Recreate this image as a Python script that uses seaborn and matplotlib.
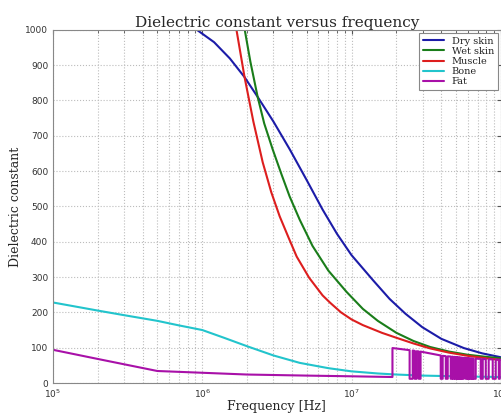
import numpy as np
import pandas as pd
import matplotlib
matplotlib.use("Agg")
import matplotlib.pyplot as plt
import seaborn as sns

# Valores (frecuencia en Hz, constante dielectrica)
dry_f = [9.2e5, 1.2e6, 1.53e6, 1.92e6, 2.35e6, 3e6, 3.85e6, 5e6, 6.4e6, 8e6, 1e7,
         1.4e7, 1.8e7, 2.3e7, 2.98e7, 4e7, 5.65e7, 7.5e7, 1e8]
dry_v = [1000, 965, 919, 866, 810, 740, 662, 575, 491, 422, 362,
         290, 238, 196, 158, 125, 99, 84, 73]

wet_f = [1.92e6, 2.1e6, 2.35e6, 2.6e6, 2.96e6, 3.4e6, 3.85e6, 4.5e6, 5.48e6, 7e6, 9.26e6,
         1.19e7, 1.5e7, 2e7, 2.6e7, 3.36e7, 4.5e7, 6e7, 8e7, 1e8]
wet_v = [1003, 910, 810, 735, 662, 590, 528, 462, 388, 318, 258,
         210, 176, 142, 119, 102, 89, 80, 74, 70]

muscle_f = [1.69e6, 1.92e6, 2.2e6, 2.54e6, 2.9e6, 3.3e6, 3.8e6, 4.29e6, 5.2e6, 6.4e6, 7.2e6,
            8.5e6, 1e7, 1.19e7, 1.6e7, 2e7, 2.6e7, 3.36e7, 4.5e7, 6e7, 8e7, 1e8]
muscle_v = [1003, 866, 740, 625, 540, 472, 410, 358, 298, 248, 227,
            200, 180, 164, 142, 128, 112, 98, 86, 77, 70, 65]

bone_f = [1e5, 2e5, 3e5, 5e5, 7e5, 1e6, 1.4e6, 2e6, 3e6, 4.5e6, 7e6, 1e7, 1.5e7, 2e7,
          3e7, 5e7, 1e8]
bone_v = [228, 205, 192, 176, 163, 150, 128, 104, 78, 57, 42, 33, 27, 24,
          21, 19, 17]

fat_f = [1e5, 2e5, 5e5, 1e6, 2e6, 5e6, 1e7, 1.88e7]
fat_v = [94, 68, 34, 29, 24, 21, 19, 17]

# tramo ruidoso de grasa por encima de ~19 MHz
fat_top_f = [1.88e7, 1e8]
fat_top_v = [99, 66]
fat_low = 12
fat_drops = [(2.45e7, 2.57e7), (2.65e7, 2.73e7), (2.82e7, 2.90e7),
             (3.96e7, 4.08e7), (4.28e7, 4.41e7),
             (4.62e7, 4.72e7), (4.78e7, 4.88e7), (4.94e7, 5.04e7), (5.08e7, 5.14e7),
             (5.22e7, 5.30e7), (5.36e7, 5.45e7), (5.52e7, 5.65e7),
             (5.82e7, 5.95e7), (6.00e7, 6.12e7), (6.18e7, 6.32e7), (6.38e7, 6.50e7), (6.56e7, 6.79e7),
             (7.34e7, 7.57e7), (7.93e7, 8.30e7), (8.83e7, 9.25e7), (9.70e7, 9.85e7)]
fat_drop_top = [(93, 92), (91, 90), (89.5, 89),
                (78, 77), (76, 75.5),
                (75, 74.6), (74.4, 74), (73.8, 73.5), (73.3, 73),
                (72.8, 72.5), (72.3, 72), (71.8, 71.5),
                (71.2, 71), (70.8, 70.5), (70.3, 70), (69.8, 69.5), (69.3, 69),
                (68.3, 68), (67.6, 67.2), (66.8, 66.5), (66.2, 66.1)]

tejidos = ["Dry skin", "Wet skin", "Muscle", "Bone", "Fat"]
colores = {"Dry skin": "#1c1ca8", "Wet skin": "#1a7d1a", "Muscle": "#dd1e1e",
           "Bone": "#22c4cc", "Fat": "#a810a8"}

# armar la serie de grasa completa
fat_all_f = list(fat_f) + [fat_top_f[0]]
fat_all_v = list(fat_v) + [fat_top_v[0]]
for (a, b), (ta, tb) in zip(fat_drops, fat_drop_top):
    fat_all_f += [a, a, b, b]
    fat_all_v += [ta, fat_low, fat_low, tb]
fat_all_f.append(fat_top_f[1])
fat_all_v.append(fat_top_v[1])

filas = []
for nombre, ff, vv in [("Dry skin", dry_f, dry_v), ("Wet skin", wet_f, wet_v),
                       ("Muscle", muscle_f, muscle_v), ("Bone", bone_f, bone_v),
                       ("Fat", fat_all_f, fat_all_v)]:
    for f, v in zip(ff, vv):
        filas.append({"Frecuencia": f, "Valor": v, "Tejido": nombre})
df = pd.DataFrame(filas)

sns.set_style("white")
plt.rcParams["font.family"] = ["DejaVu Sans"]

fig = plt.figure(figsize=(5.02, 4.16), dpi=100)
ax = fig.add_axes([0.1056, 0.0793, 0.892, 0.849])

sns.lineplot(data=df, x="Frecuencia", y="Valor", hue="Tejido", hue_order=tejidos,
             palette=colores, estimator=None, sort=False, units="Tejido",
             linewidth=1.5, ax=ax, legend=True)

ax.set_xscale("log")
ax.set_xlim(1e5, 1e8)
ax.set_ylim(0, 1000)
ax.set_yticks(range(0, 1001, 100))
ax.set_xticks([1e5, 1e6, 1e7, 1e8])

ax.grid(True, which="major", axis="both", linestyle=":", color="#bcbcbc", linewidth=0.8)
ax.grid(True, which="minor", axis="x", linestyle=":", color="#bcbcbc", linewidth=0.8)
ax.tick_params(which="both", direction="in", top=True, right=True, colors="#555555",
               labelcolor="#333333", labelsize=6.5)
ax.tick_params(which="major", length=3)
ax.tick_params(which="minor", length=1.8)
for s in ax.spines.values():
    s.set_color("#888888")
    s.set_linewidth(0.8)

ax.set_title("Dielectric constant versus frequency", family="DejaVu Serif", fontsize=11, pad=2)
ax.set_xlabel("Frequency [Hz]", family="DejaVu Serif", fontsize=9, labelpad=0)
ax.set_ylabel("Dielectric constant", family="DejaVu Serif", fontsize=9, labelpad=2)

leg = ax.legend(loc="upper right", prop={"family": "DejaVu Serif", "size": 7},
                frameon=True, fancybox=False, edgecolor="#888888", framealpha=1,
                handlelength=2.2, labelspacing=0.12, borderpad=0.4, borderaxespad=0.3)
leg.get_frame().set_linewidth(0.8)
for t in leg.get_texts():
    t.set_color("#222222")

fig.savefig("out.png", dpi=100)
